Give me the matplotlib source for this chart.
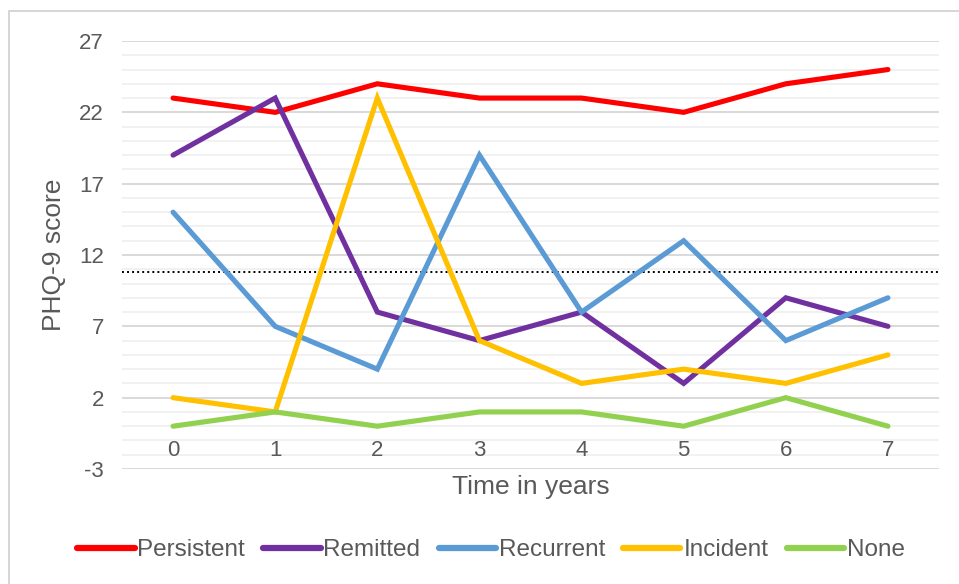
import matplotlib
matplotlib.use("Agg")
import matplotlib.pyplot as plt
from matplotlib.patches import Rectangle
from matplotlib.ticker import MultipleLocator, FixedLocator

plt.rcParams['font.family'] = ['Liberation Sans', 'DejaVu Sans']
plt.rcParams['axes.unicode_minus'] = False

# Follow-up years and mean PHQ-9 scores per trajectory group
years = [0, 1, 2, 3, 4, 5, 6, 7]
persistent = [23, 22, 24, 23, 23, 22, 24, 25]
remitted = [19, 23, 8, 6, 8, 3, 9, 7]
recurrent = [15, 7, 4, 19, 8, 13, 6, 9]
incident = [2, 1, 23, 6, 3, 4, 3, 5]
none = [0, 1, 0, 1, 1, 0, 2, 0]
threshold = 10.8

series = [
    ("Persistent", persistent, "#FF0000"),
    ("Remitted", remitted, "#7030A0"),
    ("Recurrent", recurrent, "#5B9BD5"),
    ("Incident", incident, "#FFC000"),
    ("None", none, "#92D050"),
]

text_color = "#595959"
W, H = 959, 584
fig = plt.figure(figsize=(W / 100, H / 100), dpi=100)

# chart frame
fig.patches.append(Rectangle((9 / W, -0.1), 1.2, 1 - 11 / H + 0.1,
                             transform=fig.transFigure, fill=False,
                             edgecolor="#D0D0D0", linewidth=1.2))

left, right, top, bottom = 122 / W, 939 / W, 1 - 41 / H, 1 - 469 / H
ax = fig.add_axes([left, bottom, right - left, top - bottom])

ax.set_xlim(-0.5, 7.5)
ax.set_ylim(-3, 27)

# major and minor gridlines
ax.yaxis.set_major_locator(FixedLocator([-3, 2, 7, 12, 17, 22, 27]))
ax.yaxis.set_minor_locator(MultipleLocator(1))
ax.grid(axis='y', which='major', color="#D9D9D9", linewidth=1.4, zorder=0)
ax.grid(axis='y', which='minor', color="#EFEFEF", linewidth=1.2, zorder=0)
ax.set_axisbelow(True)

for name, vals, col in series:
    ax.plot(years, vals, color=col, linewidth=3.7, label=name,
            solid_capstyle='round', solid_joinstyle='miter', zorder=3)

ax.axhline(threshold, color="black", linestyle=(0, (1, 1.6)), linewidth=1.4, zorder=2)

for s in ax.spines.values():
    s.set_visible(False)
ax.spines['bottom'].set_position(('data', 0))
ax.xaxis.set_zorder(4)

ax.set_xticks(years)
ax.set_xticklabels([str(y) for y in years])
ax.tick_params(axis='x', length=0, pad=10, labelsize=16, labelcolor=text_color)
ax.tick_params(axis='y', which='both', length=0, pad=13, labelsize=16,
               labelcolor=text_color)

ax.set_xlabel("Time in years", fontsize=19, color=text_color)
ax.xaxis.set_label_coords(0.5, -(487 - 469) / 428)
ax.xaxis.label.set_va('center')
ax.set_ylabel("PHQ-9 score", fontsize=19, color=text_color)
ax.yaxis.set_label_coords(-(122 - 54) / 817, 0.5)
ax.yaxis.label.set_va('center')

handles, labels = ax.get_legend_handles_labels()
leg = fig.legend(handles, labels, loc='center', ncol=5,
                 bbox_to_anchor=(491 / W, 1 - 550 / H), frameon=False,
                 fontsize=17.5, handlelength=2.35, handletextpad=0.12,
                 columnspacing=0.75, labelcolor=text_color)
for h in leg.legend_handles:
    h.set_linewidth(4.5)

fig.savefig("out.png", dpi=100)
